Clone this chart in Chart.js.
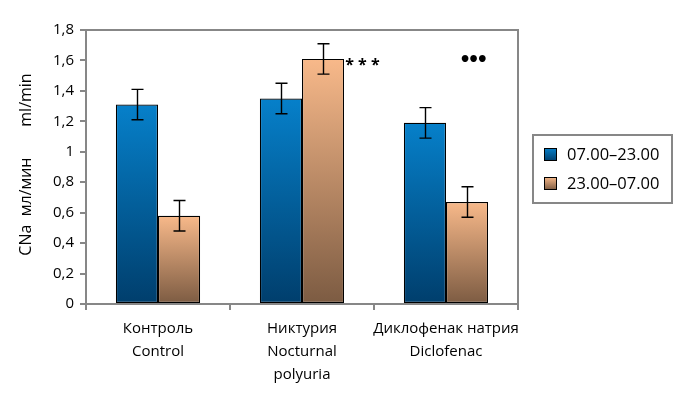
<!DOCTYPE html>
<html>
<head>
<meta charset="utf-8">
<script src="https://cdn.jsdelivr.net/npm/chart.js@4/dist/chart.umd.min.js"></script>
<style>
html,body{margin:0;padding:0;background:#fff;}
#wrap{width:685px;height:395px;position:relative;}
</style>
</head>
<body>
<div id="wrap"><canvas id="c" width="685" height="395"></canvas></div>
<script>
const categories = [["Контроль","Control"],["Никтурия","Nocturnal","polyuria"],["Диклофенак натрия","Diclofenac"]];
const seriesNames = ["07.00–23.00","23.00–07.00"];
const dayValues = [1.31, 1.35, 1.19];
const dayErrors = [0.10, 0.10, 0.10];
const nightValues = [0.58, 1.61, 0.67];
const nightErrors = [0.10, 0.10, 0.10];
const annotations = ["", "* * *", "•••"];
const yTickMax = 1.8;
const yTickStep = 0.2;
const yTitleParts = ["CNa  мл/мин", "ml/min"];

const FONT = "'Open Sans', 'DejaVu Sans', sans-serif";
const palettes = [
  {top:'#0680CA', bottom:'#003E6C'},
  {top:'#F8B98A', bottom:'#7C5B42'}
];

function barGradient(ctx, idx){
  const chart = ctx.chart;
  const pal = palettes[idx];
  if(!chart.chartArea || ctx.type !== 'data') return pal.top;
  const ys = chart.scales.y;
  const v = ctx.raw;
  const yTop = ys.getPixelForValue(v);
  const yBot = ys.getPixelForValue(0);
  const g = chart.ctx.createLinearGradient(0, yTop, 0, yBot);
  g.addColorStop(0, pal.top);
  g.addColorStop(1, pal.bottom);
  return g;
}

const errorData = [dayErrors, nightErrors];

const extras = {
  id:'extras',
  afterDatasetsDraw(chart){
    const c = chart.ctx;
    const ys = chart.scales.y, xs = chart.scales.x;
    // error bars
    c.save();
    c.strokeStyle = '#000';
    c.lineWidth = 1.4;
    chart.data.datasets.forEach((ds, di)=>{
      const meta = chart.getDatasetMeta(di);
      meta.data.forEach((el, i)=>{
        const v = ds.data[i], e = errorData[di][i];
        const x = Math.round(el.x)+0.5;
        const y1 = ys.getPixelForValue(v+e), y2 = ys.getPixelForValue(v-e);
        c.beginPath();
        c.moveTo(x, y1); c.lineTo(x, y2);
        c.moveTo(x-6, y1); c.lineTo(x+6, y1);
        c.moveTo(x-6, y2); c.lineTo(x+6, y2);
        c.stroke();
      });
    });
    c.restore();
    // frame top & right
    const a = chart.chartArea;
    c.save();
    c.strokeStyle = '#878787';
    c.lineWidth = 2;
    c.beginPath();
    c.moveTo(a.left, a.top); c.lineTo(a.right, a.top); c.lineTo(a.right, a.bottom);
    c.stroke();
    c.restore();
    // significance marks
    const cw = xs.getPixelForValue(1) - xs.getPixelForValue(0);
    const offs = [0, 0.42, 0.18];
    c.save();
    c.fillStyle = '#000';
    c.textAlign = 'center';
    c.textBaseline = 'middle';
    annotations.forEach((t, i)=>{
      if(!t) return;
      const x = xs.getPixelForValue(i) + offs[i]*cw;
      const y = ys.getPixelForValue(1.6);
      if(i === 1){ c.font = "bold 16px " + FONT; c.letterSpacing = '0px'; c.fillText(t, x, y+5); }
      else { c.font = "bold 19px 'DejaVu Sans', sans-serif"; c.letterSpacing = '-3.5px'; c.fillText(t, x, y+1); c.letterSpacing = '0px'; }
    });
    c.restore();
    // y axis title
    c.save();
    c.fillStyle = '#000';
    c.font = "16px " + FONT;
    c.textAlign = 'center'; c.textBaseline = 'middle';
    c.translate(26, 0);
    c.rotate(-Math.PI/2);
    c.fillText(yTitleParts[0], -ys.getPixelForValue(0.64), 0);
    c.fillText(yTitleParts[1], -ys.getPixelForValue(1.34), 0);
    c.restore();
    // legend
    c.save();
    const lx = 533, ly = 135, lw = 139, lh = 68;
    c.strokeStyle = '#878787'; c.lineWidth = 2;
    c.strokeRect(lx, ly, lw, lh);
    seriesNames.forEach((name, i)=>{
      const sy = ly + 13 + i*29;
      const g = c.createLinearGradient(0, sy, 0, sy+13);
      g.addColorStop(0, palettes[i].top); g.addColorStop(1, palettes[i].bottom);
      c.fillStyle = g;
      c.fillRect(lx+11, sy, 13, 13);
      c.strokeStyle = '#000'; c.lineWidth = 1;
      c.strokeRect(lx+11.5, sy+0.5, 12, 12);
      c.fillStyle = '#000';
      c.font = "16.5px " + FONT;
      c.textAlign = 'left'; c.textBaseline = 'middle';
      c.fillText(name, lx+34, sy+7);
    });
    c.restore();
  }
};

new Chart(document.getElementById('c'), {
  type:'bar',
  data:{
    labels: categories,
    datasets:[
      {label: seriesNames[0], data: dayValues, backgroundColor: (ctx)=>barGradient(ctx,0), borderColor:'#000', borderWidth:1.2, borderSkipped:false},
      {label: seriesNames[1], data: nightValues, backgroundColor: (ctx)=>barGradient(ctx,1), borderColor:'#000', borderWidth:1.2, borderSkipped:false}
    ]
  },
  options:{
    responsive:false,
    animation:false,
    layout:{padding:{left:0, top:30, right:167, bottom:0}},
    datasets:{bar:{categoryPercentage:0.585, barPercentage:1.0}},
    plugins:{legend:{display:false}, tooltip:{enabled:false}},
    scales:{
      x:{
        offset:true,
        grid:{display:true, drawOnChartArea:false, offset:true, tickLength:6, color:'#878787', lineWidth:2},
        border:{display:true, color:'#878787', width:2},
        ticks:{font:{family:FONT, size:15, lineHeight:1.55}, color:'#000', padding:7, maxRotation:0, autoSkip:false},
        afterFit(s){ s.height = 91; }
      },
      y:{
        min:0, max:yTickMax,
        grid:{display:true, drawOnChartArea:false, tickLength:6, color:'#878787', lineWidth:2},
        border:{display:true, color:'#878787', width:2},
        ticks:{stepSize:yTickStep, font:{family:FONT, size:15}, color:'#000', padding:6,
          callback:(v)=>{ const r = Math.round(v*10)/10; return String(r).replace('.', ','); }},
        title:{display:false},
        afterFit(s){ s.width = 86; }
      }
    }
  },
  plugins:[extras]
});
</script>
</body>
</html>
